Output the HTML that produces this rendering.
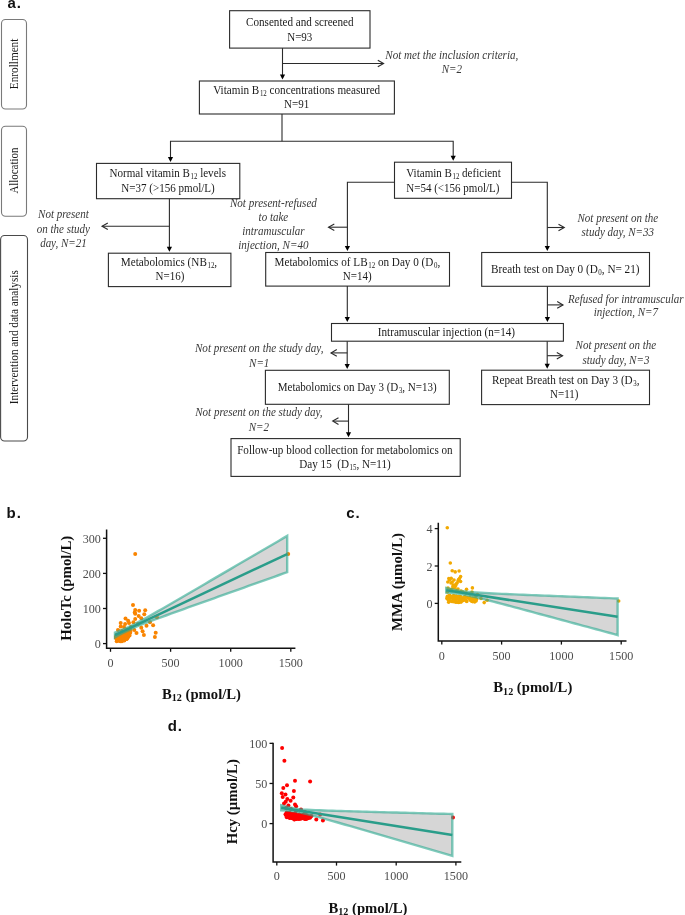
<!DOCTYPE html>
<html><head><meta charset="utf-8"><title>Figure</title>
<style>html,body{margin:0;padding:0;background:#fff;width:685px;height:915px;overflow:hidden;} svg{display:block;will-change:transform;}</style>
</head><body>
<svg width="685" height="915" viewBox="0 0 685 915">
<rect width="685" height="915" fill="#fff"/>
<rect x="1.50" y="19.50" width="25.00" height="89.50" rx="4" fill="none" stroke="#7a7a7a" stroke-width="1.1"/>
<rect x="1.50" y="126.30" width="25.00" height="89.90" rx="4" fill="none" stroke="#7a7a7a" stroke-width="1.1"/>
<rect x="0.60" y="235.50" width="26.90" height="205.50" rx="4" fill="none" stroke="#4a4a4a" stroke-width="1.1"/>
<text transform="translate(17.6,63.9) rotate(-90)" text-anchor="middle" font-family="'Liberation Serif', serif" font-size="12.0" fill="#1a1a1a" textLength="50.5" lengthAdjust="spacingAndGlyphs">Enrollment</text>
<text transform="translate(17.6,170.6) rotate(-90)" text-anchor="middle" font-family="'Liberation Serif', serif" font-size="12.0" fill="#1a1a1a" textLength="46" lengthAdjust="spacingAndGlyphs">Allocation</text>
<text transform="translate(17.6,337.2) rotate(-90)" text-anchor="middle" font-family="'Liberation Serif', serif" font-size="12.0" fill="#1a1a1a" textLength="134" lengthAdjust="spacingAndGlyphs">Intervention and data analysis</text>
<rect x="229.60" y="10.70" width="140.40" height="37.40" rx="0" fill="none" stroke="#2b2b2b" stroke-width="1.1"/>
<text x="299.80" y="25.70" text-anchor="middle" font-family="'Liberation Serif', serif" font-size="12.0" font-weight="normal" fill="#1a1a1a" textLength="107.60" lengthAdjust="spacingAndGlyphs">Consented and screened</text>
<text x="299.80" y="40.90" text-anchor="middle" font-family="'Liberation Serif', serif" font-size="12.0" font-weight="normal" fill="#1a1a1a" textLength="25.14" lengthAdjust="spacingAndGlyphs">N=93</text>
<rect x="199.40" y="81.00" width="195.00" height="33.00" rx="0" fill="none" stroke="#2b2b2b" stroke-width="1.1"/>
<text x="296.70" y="94.20" text-anchor="middle" font-family="'Liberation Serif', serif" font-size="12.0" font-weight="normal" fill="#1a1a1a" textLength="167.00" lengthAdjust="spacingAndGlyphs">Vitamin B<tspan font-size="7.44" dx="0.6" dy="1.9">12</tspan><tspan dy="-1.9"> concentrations measured</tspan></text>
<text x="296.60" y="108.40" text-anchor="middle" font-family="'Liberation Serif', serif" font-size="12.0" font-weight="normal" fill="#1a1a1a" textLength="25.14" lengthAdjust="spacingAndGlyphs">N=91</text>
<rect x="96.50" y="163.40" width="143.30" height="35.30" rx="0" fill="none" stroke="#2b2b2b" stroke-width="1.1"/>
<text x="167.70" y="177.00" text-anchor="middle" font-family="'Liberation Serif', serif" font-size="12.0" font-weight="normal" fill="#1a1a1a" textLength="116.50" lengthAdjust="spacingAndGlyphs">Normal vitamin B<tspan font-size="7.44" dx="0.6" dy="1.9">12</tspan><tspan dy="-1.9"> levels</tspan></text>
<text x="168.00" y="191.90" text-anchor="middle" font-family="'Liberation Serif', serif" font-size="12.0" font-weight="normal" fill="#1a1a1a" textLength="93.60" lengthAdjust="spacingAndGlyphs">N=37 (&gt;156 pmol/L)</text>
<rect x="394.50" y="162.20" width="117.00" height="36.10" rx="0" fill="none" stroke="#2b2b2b" stroke-width="1.1"/>
<text x="406.30" y="176.90" text-anchor="start" font-family="'Liberation Serif', serif" font-size="12.0" font-weight="normal" fill="#1a1a1a" textLength="94.40" lengthAdjust="spacingAndGlyphs">Vitamin B<tspan font-size="7.44" dx="0.6" dy="1.9">12</tspan><tspan dy="-1.9"> deficient</tspan></text>
<text x="406.30" y="191.80" text-anchor="start" font-family="'Liberation Serif', serif" font-size="12.0" font-weight="normal" fill="#1a1a1a" textLength="93.10" lengthAdjust="spacingAndGlyphs">N=54 (&lt;156 pmol/L)</text>
<rect x="108.40" y="253.20" width="122.50" height="33.40" rx="0" fill="none" stroke="#2b2b2b" stroke-width="1.1"/>
<text x="169.00" y="265.70" text-anchor="middle" font-family="'Liberation Serif', serif" font-size="12.0" font-weight="normal" fill="#1a1a1a" textLength="96.30" lengthAdjust="spacingAndGlyphs">Metabolomics (NB<tspan font-size="7.44" dx="0.6" dy="1.9">12</tspan><tspan dy="-1.9">,</tspan></text>
<text x="169.90" y="279.90" text-anchor="middle" font-family="'Liberation Serif', serif" font-size="12.0" font-weight="normal" fill="#1a1a1a" textLength="28.80" lengthAdjust="spacingAndGlyphs">N=16)</text>
<rect x="265.70" y="252.50" width="183.80" height="33.60" rx="0" fill="none" stroke="#2b2b2b" stroke-width="1.1"/>
<text x="357.40" y="265.80" text-anchor="middle" font-family="'Liberation Serif', serif" font-size="12.0" font-weight="normal" fill="#1a1a1a" textLength="165.60" lengthAdjust="spacingAndGlyphs">Metabolomics of LB<tspan font-size="7.44" dx="0.6" dy="1.9">12</tspan><tspan dy="-1.9"> on Day 0 (D</tspan><tspan font-size="7.44" dx="0.6" dy="1.9">0</tspan><tspan dy="-1.9">,</tspan></text>
<text x="357.20" y="279.80" text-anchor="middle" font-family="'Liberation Serif', serif" font-size="12.0" font-weight="normal" fill="#1a1a1a" textLength="28.80" lengthAdjust="spacingAndGlyphs">N=14)</text>
<rect x="481.70" y="252.50" width="167.80" height="33.80" rx="0" fill="none" stroke="#2b2b2b" stroke-width="1.1"/>
<text x="565.30" y="272.80" text-anchor="middle" font-family="'Liberation Serif', serif" font-size="12.0" font-weight="normal" fill="#1a1a1a" textLength="148.50" lengthAdjust="spacingAndGlyphs">Breath test on Day 0 (D<tspan font-size="7.44" dx="0.6" dy="1.9">0</tspan><tspan dy="-1.9">, N= 21)</tspan></text>
<rect x="331.50" y="323.50" width="231.90" height="17.70" rx="0" fill="none" stroke="#2b2b2b" stroke-width="1.1"/>
<text x="446.40" y="336.00" text-anchor="middle" font-family="'Liberation Serif', serif" font-size="12.0" font-weight="normal" fill="#1a1a1a" textLength="137.30" lengthAdjust="spacingAndGlyphs">Intramuscular injection (n=14)</text>
<rect x="265.40" y="370.30" width="183.90" height="34.00" rx="0" fill="none" stroke="#2b2b2b" stroke-width="1.1"/>
<text x="357.20" y="391.30" text-anchor="middle" font-family="'Liberation Serif', serif" font-size="12.0" font-weight="normal" fill="#1a1a1a" textLength="159.00" lengthAdjust="spacingAndGlyphs">Metabolomics on Day 3 (D<tspan font-size="7.44" dx="0.6" dy="1.9">3</tspan><tspan dy="-1.9">, N=13)</tspan></text>
<rect x="481.60" y="370.20" width="167.90" height="34.40" rx="0" fill="none" stroke="#2b2b2b" stroke-width="1.1"/>
<text x="565.80" y="384.00" text-anchor="middle" font-family="'Liberation Serif', serif" font-size="12.0" font-weight="normal" fill="#1a1a1a" textLength="147.50" lengthAdjust="spacingAndGlyphs">Repeat Breath test on Day 3 (D<tspan font-size="7.44" dx="0.6" dy="1.9">3</tspan><tspan dy="-1.9">,</tspan></text>
<text x="564.20" y="398.40" text-anchor="middle" font-family="'Liberation Serif', serif" font-size="12.0" font-weight="normal" fill="#1a1a1a" textLength="28.39" lengthAdjust="spacingAndGlyphs">N=11)</text>
<rect x="231.00" y="438.60" width="229.20" height="37.80" rx="0" fill="none" stroke="#2b2b2b" stroke-width="1.1"/>
<text x="344.90" y="453.80" text-anchor="middle" font-family="'Liberation Serif', serif" font-size="12.0" font-weight="normal" fill="#1a1a1a" textLength="215.40" lengthAdjust="spacingAndGlyphs">Follow-up blood collection for metabolomics on</text>
<text x="345.00" y="468.30" text-anchor="middle" font-family="'Liberation Serif', serif" font-size="12.0" font-weight="normal" fill="#1a1a1a" textLength="91.50" lengthAdjust="spacingAndGlyphs">Day 15&#160; (D<tspan font-size="7.44" dx="0.6" dy="1.9">15</tspan><tspan dy="-1.9">, N=11)</tspan></text>
<path d="M282.50,48.10 L282.50,78.00" fill="none" stroke="#2b2b2b" stroke-width="1.1"/>
<path d="M279.90,74.60 L285.10,74.60 L282.50,79.60 Z" fill="#000"/>
<path d="M282.50,63.50 L383.30,63.50" fill="none" stroke="#2b2b2b" stroke-width="1.1"/>
<path d="M377.80,60.20 L383.60,63.50 L377.80,66.80" fill="none" stroke="#2b2b2b" stroke-width="1.1"/>
<path d="M282.00,114.00 L282.00,141.20" fill="none" stroke="#2b2b2b" stroke-width="1.1"/>
<path d="M170.50,160.00 L170.50,141.20 L453.20,141.20 L453.20,159.00" fill="none" stroke="#2b2b2b" stroke-width="1.1"/>
<path d="M167.90,157.00 L173.10,157.00 L170.50,162.00 Z" fill="#000"/>
<path d="M450.60,155.80 L455.80,155.80 L453.20,160.80 Z" fill="#000"/>
<path d="M169.40,198.70 L169.40,250.00" fill="none" stroke="#2b2b2b" stroke-width="1.1"/>
<path d="M166.80,246.80 L172.00,246.80 L169.40,251.80 Z" fill="#000"/>
<path d="M169.40,226.30 L102.30,226.30" fill="none" stroke="#2b2b2b" stroke-width="1.1"/>
<path d="M107.80,223.00 L102.00,226.30 L107.80,229.60" fill="none" stroke="#2b2b2b" stroke-width="1.1"/>
<path d="M394.50,182.20 L347.40,182.20 L347.40,249.00" fill="none" stroke="#2b2b2b" stroke-width="1.1"/>
<path d="M344.80,246.10 L350.00,246.10 L347.40,251.10 Z" fill="#000"/>
<path d="M347.40,227.20 L328.80,227.20" fill="none" stroke="#2b2b2b" stroke-width="1.1"/>
<path d="M334.30,223.90 L328.50,227.20 L334.30,230.50" fill="none" stroke="#2b2b2b" stroke-width="1.1"/>
<path d="M511.50,182.20 L547.30,182.20 L547.30,249.00" fill="none" stroke="#2b2b2b" stroke-width="1.1"/>
<path d="M544.70,246.10 L549.90,246.10 L547.30,251.10 Z" fill="#000"/>
<path d="M547.30,227.50 L564.00,227.50" fill="none" stroke="#2b2b2b" stroke-width="1.1"/>
<path d="M558.50,224.20 L564.30,227.50 L558.50,230.80" fill="none" stroke="#2b2b2b" stroke-width="1.1"/>
<path d="M347.30,286.10 L347.30,320.00" fill="none" stroke="#2b2b2b" stroke-width="1.1"/>
<path d="M344.70,317.10 L349.90,317.10 L347.30,322.10 Z" fill="#000"/>
<path d="M547.40,286.30 L547.40,320.00" fill="none" stroke="#2b2b2b" stroke-width="1.1"/>
<path d="M544.80,317.10 L550.00,317.10 L547.40,322.10 Z" fill="#000"/>
<path d="M547.40,304.90 L562.70,304.90" fill="none" stroke="#2b2b2b" stroke-width="1.1"/>
<path d="M557.20,301.60 L563.00,304.90 L557.20,308.20" fill="none" stroke="#2b2b2b" stroke-width="1.1"/>
<path d="M347.20,341.20 L347.20,367.00" fill="none" stroke="#2b2b2b" stroke-width="1.1"/>
<path d="M344.60,363.90 L349.80,363.90 L347.20,368.90 Z" fill="#000"/>
<path d="M347.20,352.90 L331.30,352.90" fill="none" stroke="#2b2b2b" stroke-width="1.1"/>
<path d="M336.80,349.60 L331.00,352.90 L336.80,356.20" fill="none" stroke="#2b2b2b" stroke-width="1.1"/>
<path d="M547.20,341.20 L547.20,367.00" fill="none" stroke="#2b2b2b" stroke-width="1.1"/>
<path d="M544.60,363.80 L549.80,363.80 L547.20,368.80 Z" fill="#000"/>
<path d="M547.20,355.70 L562.30,355.70" fill="none" stroke="#2b2b2b" stroke-width="1.1"/>
<path d="M556.80,352.40 L562.60,355.70 L556.80,359.00" fill="none" stroke="#2b2b2b" stroke-width="1.1"/>
<path d="M348.50,404.30 L348.50,435.00" fill="none" stroke="#2b2b2b" stroke-width="1.1"/>
<path d="M345.90,432.20 L351.10,432.20 L348.50,437.20 Z" fill="#000"/>
<path d="M348.50,421.10 L333.00,421.10" fill="none" stroke="#2b2b2b" stroke-width="1.1"/>
<path d="M338.50,417.80 L332.70,421.10 L338.50,424.40" fill="none" stroke="#2b2b2b" stroke-width="1.1"/>
<text x="451.80" y="58.50" text-anchor="middle" font-family="'Liberation Serif', serif" font-size="12.0" font-weight="normal" font-style="italic" fill="#383838" textLength="133.00" lengthAdjust="spacingAndGlyphs">Not met the inclusion criteria,</text>
<text x="451.80" y="72.70" text-anchor="middle" font-family="'Liberation Serif', serif" font-size="12.0" font-weight="normal" font-style="italic" fill="#383838" textLength="20.27" lengthAdjust="spacingAndGlyphs">N=2</text>
<text x="63.40" y="218.40" text-anchor="middle" font-family="'Liberation Serif', serif" font-size="12.0" font-weight="normal" font-style="italic" fill="#383838" textLength="50.62" lengthAdjust="spacingAndGlyphs">Not present</text>
<text x="63.40" y="232.50" text-anchor="middle" font-family="'Liberation Serif', serif" font-size="12.0" font-weight="normal" font-style="italic" fill="#383838" textLength="53.16" lengthAdjust="spacingAndGlyphs">on the study</text>
<text x="63.40" y="246.60" text-anchor="middle" font-family="'Liberation Serif', serif" font-size="12.0" font-weight="normal" font-style="italic" fill="#383838" textLength="46.53" lengthAdjust="spacingAndGlyphs">day, N=21</text>
<text x="273.40" y="207.10" text-anchor="middle" font-family="'Liberation Serif', serif" font-size="12.0" font-weight="normal" font-style="italic" fill="#383838" textLength="87.00" lengthAdjust="spacingAndGlyphs">Not present-refused</text>
<text x="273.40" y="221.10" text-anchor="middle" font-family="'Liberation Serif', serif" font-size="12.0" font-weight="normal" font-style="italic" fill="#383838" textLength="29.62" lengthAdjust="spacingAndGlyphs">to take</text>
<text x="273.40" y="235.10" text-anchor="middle" font-family="'Liberation Serif', serif" font-size="12.0" font-weight="normal" font-style="italic" fill="#383838" textLength="62.34" lengthAdjust="spacingAndGlyphs">intramuscular</text>
<text x="273.40" y="249.10" text-anchor="middle" font-family="'Liberation Serif', serif" font-size="12.0" font-weight="normal" font-style="italic" fill="#383838" textLength="70.50" lengthAdjust="spacingAndGlyphs">injection, N=40</text>
<text x="617.80" y="221.70" text-anchor="middle" font-family="'Liberation Serif', serif" font-size="12.0" font-weight="normal" font-style="italic" fill="#383838" textLength="80.56" lengthAdjust="spacingAndGlyphs">Not present on the</text>
<text x="617.80" y="236.20" text-anchor="middle" font-family="'Liberation Serif', serif" font-size="12.0" font-weight="normal" font-style="italic" fill="#383838" textLength="72.50" lengthAdjust="spacingAndGlyphs">study day, N=33</text>
<text x="625.80" y="302.60" text-anchor="middle" font-family="'Liberation Serif', serif" font-size="12.0" font-weight="normal" font-style="italic" fill="#383838" textLength="115.50" lengthAdjust="spacingAndGlyphs">Refused for intramuscular</text>
<text x="625.80" y="316.20" text-anchor="middle" font-family="'Liberation Serif', serif" font-size="12.0" font-weight="normal" font-style="italic" fill="#383838" textLength="64.27" lengthAdjust="spacingAndGlyphs">injection, N=7</text>
<text x="259.20" y="352.10" text-anchor="middle" font-family="'Liberation Serif', serif" font-size="12.0" font-weight="normal" font-style="italic" fill="#383838" textLength="128.50" lengthAdjust="spacingAndGlyphs">Not present on the study day,</text>
<text x="259.20" y="366.50" text-anchor="middle" font-family="'Liberation Serif', serif" font-size="12.0" font-weight="normal" font-style="italic" fill="#383838" textLength="20.27" lengthAdjust="spacingAndGlyphs">N=1</text>
<text x="615.90" y="349.40" text-anchor="middle" font-family="'Liberation Serif', serif" font-size="12.0" font-weight="normal" font-style="italic" fill="#383838" textLength="80.56" lengthAdjust="spacingAndGlyphs">Not present on the</text>
<text x="615.90" y="363.90" text-anchor="middle" font-family="'Liberation Serif', serif" font-size="12.0" font-weight="normal" font-style="italic" fill="#383838" textLength="67.00" lengthAdjust="spacingAndGlyphs">study day, N=3</text>
<text x="258.90" y="416.10" text-anchor="middle" font-family="'Liberation Serif', serif" font-size="12.0" font-weight="normal" font-style="italic" fill="#383838" textLength="127.30" lengthAdjust="spacingAndGlyphs">Not present on the study day,</text>
<text x="258.90" y="431.00" text-anchor="middle" font-family="'Liberation Serif', serif" font-size="12.0" font-weight="normal" font-style="italic" fill="#383838" textLength="20.27" lengthAdjust="spacingAndGlyphs">N=2</text>
<text x="7.40" y="8.30" text-anchor="start" font-family="'Liberation Sans', sans-serif" font-size="15" font-weight="bold" fill="#111" letter-spacing="0.9">a.</text>
<text x="6.60" y="517.80" text-anchor="start" font-family="'Liberation Sans', sans-serif" font-size="15" font-weight="bold" fill="#111" letter-spacing="0.9">b.</text>
<text x="346.30" y="517.90" text-anchor="start" font-family="'Liberation Sans', sans-serif" font-size="15" font-weight="bold" fill="#111" letter-spacing="0.9">c.</text>
<text x="167.80" y="731.40" text-anchor="start" font-family="'Liberation Sans', sans-serif" font-size="15" font-weight="bold" fill="#111" letter-spacing="0.9">d.</text>
<circle cx="135.20" cy="554.00" r="2.0" fill="#f98400"/>
<circle cx="133.00" cy="605.10" r="2.0" fill="#f98400"/>
<circle cx="135.20" cy="609.90" r="2.0" fill="#f98400"/>
<circle cx="139.10" cy="610.80" r="2.0" fill="#f98400"/>
<circle cx="145.20" cy="610.30" r="2.0" fill="#f98400"/>
<circle cx="134.70" cy="612.50" r="2.0" fill="#f98400"/>
<circle cx="135.20" cy="613.80" r="2.0" fill="#f98400"/>
<circle cx="144.30" cy="614.30" r="2.0" fill="#f98400"/>
<circle cx="138.70" cy="616.00" r="2.0" fill="#f98400"/>
<circle cx="141.30" cy="618.20" r="2.0" fill="#f98400"/>
<circle cx="135.20" cy="619.10" r="2.0" fill="#f98400"/>
<circle cx="125.50" cy="618.60" r="2.0" fill="#f98400"/>
<circle cx="128.10" cy="620.80" r="2.0" fill="#f98400"/>
<circle cx="120.70" cy="623.00" r="2.0" fill="#f98400"/>
<circle cx="125.10" cy="623.90" r="2.0" fill="#f98400"/>
<circle cx="129.00" cy="623.00" r="2.0" fill="#f98400"/>
<circle cx="133.40" cy="622.20" r="2.0" fill="#f98400"/>
<circle cx="150.00" cy="622.20" r="2.0" fill="#f98400"/>
<circle cx="157.00" cy="617.30" r="2.0" fill="#f98400"/>
<circle cx="153.10" cy="625.20" r="2.0" fill="#f98400"/>
<circle cx="146.50" cy="625.70" r="2.0" fill="#f98400"/>
<circle cx="120.70" cy="626.50" r="2.0" fill="#f98400"/>
<circle cx="141.30" cy="627.80" r="2.0" fill="#f98400"/>
<circle cx="134.30" cy="630.00" r="2.0" fill="#f98400"/>
<circle cx="136.50" cy="633.10" r="2.0" fill="#f98400"/>
<circle cx="142.60" cy="631.30" r="2.0" fill="#f98400"/>
<circle cx="143.90" cy="634.90" r="2.0" fill="#f98400"/>
<circle cx="155.70" cy="632.70" r="2.0" fill="#f98400"/>
<circle cx="154.90" cy="637.00" r="2.0" fill="#f98400"/>
<circle cx="288.20" cy="553.90" r="2.0" fill="#f98400"/>
<circle cx="124.00" cy="627.00" r="2.0" fill="#f98400"/>
<circle cx="127.00" cy="629.50" r="2.0" fill="#f98400"/>
<circle cx="131.00" cy="627.00" r="2.0" fill="#f98400"/>
<circle cx="138.00" cy="624.00" r="2.0" fill="#f98400"/>
<circle cx="118.00" cy="630.00" r="2.0" fill="#f98400"/>
<circle cx="122.00" cy="631.00" r="2.0" fill="#f98400"/>
<circle cx="123.91" cy="633.53" r="2.0" fill="#f98400"/>
<circle cx="121.85" cy="641.14" r="2.0" fill="#f98400"/>
<circle cx="124.68" cy="634.05" r="2.0" fill="#f98400"/>
<circle cx="129.88" cy="632.28" r="2.0" fill="#f98400"/>
<circle cx="119.71" cy="640.97" r="2.0" fill="#f98400"/>
<circle cx="117.34" cy="637.10" r="2.0" fill="#f98400"/>
<circle cx="125.82" cy="633.64" r="2.0" fill="#f98400"/>
<circle cx="126.59" cy="634.56" r="2.0" fill="#f98400"/>
<circle cx="119.81" cy="637.16" r="2.0" fill="#f98400"/>
<circle cx="118.52" cy="636.98" r="2.0" fill="#f98400"/>
<circle cx="127.49" cy="632.25" r="2.0" fill="#f98400"/>
<circle cx="121.74" cy="639.99" r="2.0" fill="#f98400"/>
<circle cx="116.81" cy="635.57" r="2.0" fill="#f98400"/>
<circle cx="128.14" cy="636.95" r="2.0" fill="#f98400"/>
<circle cx="130.20" cy="632.68" r="2.0" fill="#f98400"/>
<circle cx="126.86" cy="637.31" r="2.0" fill="#f98400"/>
<circle cx="124.73" cy="635.03" r="2.0" fill="#f98400"/>
<circle cx="122.77" cy="638.46" r="2.0" fill="#f98400"/>
<circle cx="129.21" cy="632.20" r="2.0" fill="#f98400"/>
<circle cx="121.14" cy="638.53" r="2.0" fill="#f98400"/>
<circle cx="119.15" cy="634.35" r="2.0" fill="#f98400"/>
<circle cx="118.32" cy="635.50" r="2.0" fill="#f98400"/>
<circle cx="120.83" cy="636.84" r="2.0" fill="#f98400"/>
<circle cx="123.54" cy="637.69" r="2.0" fill="#f98400"/>
<circle cx="121.26" cy="634.08" r="2.0" fill="#f98400"/>
<circle cx="115.92" cy="637.97" r="2.0" fill="#f98400"/>
<circle cx="122.62" cy="635.48" r="2.0" fill="#f98400"/>
<circle cx="117.09" cy="640.24" r="2.0" fill="#f98400"/>
<circle cx="123.85" cy="640.35" r="2.0" fill="#f98400"/>
<circle cx="118.19" cy="636.04" r="2.0" fill="#f98400"/>
<circle cx="118.79" cy="638.93" r="2.0" fill="#f98400"/>
<circle cx="129.55" cy="635.41" r="2.0" fill="#f98400"/>
<circle cx="127.88" cy="635.39" r="2.0" fill="#f98400"/>
<circle cx="117.30" cy="640.52" r="2.0" fill="#f98400"/>
<circle cx="120.15" cy="640.71" r="2.0" fill="#f98400"/>
<circle cx="116.70" cy="641.14" r="2.0" fill="#f98400"/>
<circle cx="120.48" cy="636.55" r="2.0" fill="#f98400"/>
<circle cx="129.28" cy="630.98" r="2.0" fill="#f98400"/>
<circle cx="118.45" cy="637.18" r="2.0" fill="#f98400"/>
<circle cx="118.80" cy="634.41" r="2.0" fill="#f98400"/>
<circle cx="120.55" cy="635.06" r="2.0" fill="#f98400"/>
<circle cx="123.28" cy="636.28" r="2.0" fill="#f98400"/>
<circle cx="117.19" cy="635.31" r="2.0" fill="#f98400"/>
<circle cx="127.42" cy="636.68" r="2.0" fill="#f98400"/>
<circle cx="120.03" cy="636.05" r="2.0" fill="#f98400"/>
<circle cx="124.28" cy="640.44" r="2.0" fill="#f98400"/>
<circle cx="115.96" cy="636.74" r="2.0" fill="#f98400"/>
<circle cx="128.29" cy="635.88" r="2.0" fill="#f98400"/>
<circle cx="124.39" cy="640.04" r="2.0" fill="#f98400"/>
<circle cx="125.33" cy="635.84" r="2.0" fill="#f98400"/>
<circle cx="123.47" cy="638.93" r="2.0" fill="#f98400"/>
<circle cx="122.37" cy="636.30" r="2.0" fill="#f98400"/>
<circle cx="116.86" cy="639.32" r="2.0" fill="#f98400"/>
<circle cx="121.37" cy="635.54" r="2.0" fill="#f98400"/>
<circle cx="123.54" cy="633.10" r="2.0" fill="#f98400"/>
<circle cx="124.25" cy="634.77" r="2.0" fill="#f98400"/>
<circle cx="125.54" cy="635.95" r="2.0" fill="#f98400"/>
<circle cx="129.15" cy="631.77" r="2.0" fill="#f98400"/>
<circle cx="124.56" cy="639.06" r="2.0" fill="#f98400"/>
<circle cx="126.73" cy="634.52" r="2.0" fill="#f98400"/>
<circle cx="122.39" cy="633.10" r="2.0" fill="#f98400"/>
<circle cx="128.05" cy="632.28" r="2.0" fill="#f98400"/>
<circle cx="127.56" cy="636.59" r="2.0" fill="#f98400"/>
<circle cx="117.50" cy="635.33" r="2.0" fill="#f98400"/>
<circle cx="129.15" cy="634.63" r="2.0" fill="#f98400"/>
<circle cx="121.27" cy="635.86" r="2.0" fill="#f98400"/>
<circle cx="120.34" cy="641.23" r="2.0" fill="#f98400"/>
<circle cx="127.07" cy="637.99" r="2.0" fill="#f98400"/>
<circle cx="121.49" cy="633.23" r="2.0" fill="#f98400"/>
<circle cx="119.42" cy="635.08" r="2.0" fill="#f98400"/>
<circle cx="116.91" cy="634.86" r="2.0" fill="#f98400"/>
<circle cx="122.78" cy="635.80" r="2.0" fill="#f98400"/>
<circle cx="117.72" cy="635.83" r="2.0" fill="#f98400"/>
<circle cx="124.83" cy="636.23" r="2.0" fill="#f98400"/>
<circle cx="127.40" cy="638.11" r="2.0" fill="#f98400"/>
<circle cx="116.58" cy="636.14" r="2.0" fill="#f98400"/>
<circle cx="126.63" cy="638.94" r="2.0" fill="#f98400"/>
<circle cx="124.33" cy="637.86" r="2.0" fill="#f98400"/>
<circle cx="125.59" cy="638.73" r="2.0" fill="#f98400"/>
<circle cx="123.30" cy="636.33" r="2.0" fill="#f98400"/>
<circle cx="127.63" cy="631.66" r="2.0" fill="#f98400"/>
<circle cx="123.14" cy="633.81" r="2.0" fill="#f98400"/>
<circle cx="122.86" cy="638.78" r="2.0" fill="#f98400"/>
<circle cx="127.75" cy="632.52" r="2.0" fill="#f98400"/>
<circle cx="126.43" cy="638.92" r="2.0" fill="#f98400"/>
<circle cx="126.50" cy="632.30" r="2.0" fill="#f98400"/>
<circle cx="123.56" cy="635.17" r="2.0" fill="#f98400"/>
<circle cx="130.53" cy="630.79" r="2.0" fill="#f98400"/>
<circle cx="117.90" cy="637.09" r="2.0" fill="#f98400"/>
<circle cx="116.62" cy="636.15" r="2.0" fill="#f98400"/>
<path d="M114.95,632.68 L119.25,630.99 L123.56,629.22 L127.87,627.33 L132.17,625.29 L136.48,623.12 L140.78,620.83 L145.09,618.46 L149.40,616.05 L153.70,613.61 L158.01,611.15 L162.32,608.68 L166.62,606.19 L170.93,603.70 L175.23,601.21 L179.54,598.71 L183.85,596.21 L188.15,593.70 L192.46,591.20 L196.76,588.69 L201.07,586.18 L205.38,583.67 L209.68,581.16 L213.99,578.65 L218.30,576.13 L222.60,573.62 L226.91,571.11 L231.21,568.59 L235.52,566.08 L239.83,563.56 L244.13,561.05 L248.44,558.53 L252.74,556.02 L257.05,553.50 L261.36,550.99 L265.66,548.47 L269.97,545.95 L274.28,543.44 L278.58,540.92 L282.89,538.40 L287.19,535.89 L287.19,572.18 L282.89,573.72 L278.58,575.25 L274.28,576.78 L269.97,578.31 L265.66,579.85 L261.36,581.38 L257.05,582.91 L252.74,584.44 L248.44,585.98 L244.13,587.51 L239.83,589.05 L235.52,590.58 L231.21,592.11 L226.91,593.65 L222.60,595.18 L218.30,596.72 L213.99,598.26 L209.68,599.79 L205.38,601.33 L201.07,602.87 L196.76,604.41 L192.46,605.95 L188.15,607.49 L183.85,609.04 L179.54,610.59 L175.23,612.14 L170.93,613.69 L166.62,615.25 L162.32,616.81 L158.01,618.39 L153.70,619.98 L149.40,621.59 L145.09,623.23 L140.78,624.91 L136.48,626.67 L132.17,628.54 L127.87,630.56 L123.56,632.72 L119.25,634.99 L114.95,637.35 Z" fill="#999" fill-opacity="0.4" stroke="#2aa88f" stroke-opacity="0.6" stroke-width="2.4" stroke-linejoin="miter"/>
<path d="M114.95,635.02 L287.19,554.04" stroke="#2a9d8a" stroke-width="2.5" fill="none"/>
<path d="M106.60,529.40 L106.60,648.20 L295.40,648.20" fill="none" stroke="#111" stroke-width="1.5"/>
<path d="M103.00,643.60 L106.60,643.60" stroke="#111" stroke-width="1.3"/>
<text x="100.80" y="648.10" text-anchor="end" font-family="'Liberation Serif', serif" font-size="12.1" font-weight="normal" fill="#4d4d4d">0</text>
<path d="M103.00,608.50 L106.60,608.50" stroke="#111" stroke-width="1.3"/>
<text x="100.80" y="613.00" text-anchor="end" font-family="'Liberation Serif', serif" font-size="12.1" font-weight="normal" fill="#4d4d4d">100</text>
<path d="M103.00,573.40 L106.60,573.40" stroke="#111" stroke-width="1.3"/>
<text x="100.80" y="577.90" text-anchor="end" font-family="'Liberation Serif', serif" font-size="12.1" font-weight="normal" fill="#4d4d4d">200</text>
<path d="M103.00,538.30 L106.60,538.30" stroke="#111" stroke-width="1.3"/>
<text x="100.80" y="542.80" text-anchor="end" font-family="'Liberation Serif', serif" font-size="12.1" font-weight="normal" fill="#4d4d4d">300</text>
<path d="M110.50,648.20 L110.50,651.80" stroke="#111" stroke-width="1.3"/>
<text x="110.50" y="666.60" text-anchor="middle" font-family="'Liberation Serif', serif" font-size="12.1" font-weight="normal" fill="#4d4d4d">0</text>
<path d="M170.60,648.20 L170.60,651.80" stroke="#111" stroke-width="1.3"/>
<text x="170.60" y="666.60" text-anchor="middle" font-family="'Liberation Serif', serif" font-size="12.1" font-weight="normal" fill="#4d4d4d">500</text>
<path d="M230.70,648.20 L230.70,651.80" stroke="#111" stroke-width="1.3"/>
<text x="230.70" y="666.60" text-anchor="middle" font-family="'Liberation Serif', serif" font-size="12.1" font-weight="normal" fill="#4d4d4d">1000</text>
<path d="M290.80,648.20 L290.80,651.80" stroke="#111" stroke-width="1.3"/>
<text x="290.80" y="666.60" text-anchor="middle" font-family="'Liberation Serif', serif" font-size="12.1" font-weight="normal" fill="#4d4d4d">1500</text>
<text transform="translate(70.5,588.2) rotate(-90)" text-anchor="middle" font-family="'Liberation Serif', serif" font-size="14.8" font-weight="bold" fill="#111" textLength="105" lengthAdjust="spacingAndGlyphs">HoloTc (pmol/L)</text>
<text x="162" y="698.6" font-family="'Liberation Serif', serif" font-size="14.8" font-weight="bold" fill="#111" textLength="79" lengthAdjust="spacingAndGlyphs">B<tspan font-size="10.2" dy="2.8">12</tspan><tspan dy="-2.8"> (pmol/L)</tspan></text>
<circle cx="447.30" cy="527.70" r="1.8" fill="#f2a900"/>
<circle cx="450.30" cy="563.00" r="1.8" fill="#f2a900"/>
<circle cx="452.20" cy="570.70" r="1.8" fill="#f2a900"/>
<circle cx="455.20" cy="571.90" r="1.8" fill="#f2a900"/>
<circle cx="459.10" cy="571.00" r="1.8" fill="#f2a900"/>
<circle cx="460.60" cy="576.60" r="1.8" fill="#f2a900"/>
<circle cx="448.80" cy="578.50" r="1.8" fill="#f2a900"/>
<circle cx="451.20" cy="578.20" r="1.8" fill="#f2a900"/>
<circle cx="447.80" cy="582.00" r="1.8" fill="#f2a900"/>
<circle cx="452.20" cy="582.00" r="1.8" fill="#f2a900"/>
<circle cx="458.60" cy="579.50" r="1.8" fill="#f2a900"/>
<circle cx="460.60" cy="581.50" r="1.8" fill="#f2a900"/>
<circle cx="457.10" cy="583.00" r="1.8" fill="#f2a900"/>
<circle cx="453.20" cy="585.00" r="1.8" fill="#f2a900"/>
<circle cx="455.70" cy="585.40" r="1.8" fill="#f2a900"/>
<circle cx="472.40" cy="587.90" r="1.8" fill="#f2a900"/>
<circle cx="466.50" cy="589.30" r="1.8" fill="#f2a900"/>
<circle cx="484.20" cy="602.60" r="1.8" fill="#f2a900"/>
<circle cx="487.10" cy="600.20" r="1.8" fill="#f2a900"/>
<circle cx="618.70" cy="601.00" r="1.8" fill="#f2a900"/>
<circle cx="453.00" cy="588.00" r="1.8" fill="#f2a900"/>
<circle cx="458.00" cy="589.00" r="1.8" fill="#f2a900"/>
<circle cx="463.00" cy="592.00" r="1.8" fill="#f2a900"/>
<circle cx="470.00" cy="594.00" r="1.8" fill="#f2a900"/>
<circle cx="476.00" cy="596.00" r="1.8" fill="#f2a900"/>
<circle cx="481.00" cy="598.50" r="1.8" fill="#f2a900"/>
<circle cx="450.00" cy="590.00" r="1.8" fill="#f2a900"/>
<circle cx="449.50" cy="580.00" r="1.8" fill="#f2a900"/>
<circle cx="451.00" cy="583.00" r="1.8" fill="#f2a900"/>
<circle cx="453.00" cy="586.50" r="1.8" fill="#f2a900"/>
<circle cx="456.00" cy="584.00" r="1.8" fill="#f2a900"/>
<circle cx="458.00" cy="581.00" r="1.8" fill="#f2a900"/>
<circle cx="459.50" cy="578.50" r="1.8" fill="#f2a900"/>
<circle cx="455.00" cy="588.00" r="1.8" fill="#f2a900"/>
<circle cx="457.00" cy="590.50" r="1.8" fill="#f2a900"/>
<circle cx="451.00" cy="589.50" r="1.8" fill="#f2a900"/>
<circle cx="448.00" cy="588.00" r="1.8" fill="#f2a900"/>
<circle cx="454.00" cy="580.00" r="1.8" fill="#f2a900"/>
<circle cx="447.50" cy="592.00" r="1.8" fill="#f2a900"/>
<circle cx="461.00" cy="591.00" r="1.8" fill="#f2a900"/>
<circle cx="466.00" cy="593.00" r="1.8" fill="#f2a900"/>
<circle cx="472.00" cy="592.00" r="1.8" fill="#f2a900"/>
<circle cx="477.50" cy="594.50" r="1.8" fill="#f2a900"/>
<circle cx="472.53" cy="598.84" r="1.8" fill="#f2a900"/>
<circle cx="474.74" cy="600.89" r="1.8" fill="#f2a900"/>
<circle cx="460.27" cy="596.67" r="1.8" fill="#f2a900"/>
<circle cx="449.97" cy="597.11" r="1.8" fill="#f2a900"/>
<circle cx="455.79" cy="602.32" r="1.8" fill="#f2a900"/>
<circle cx="476.06" cy="600.99" r="1.8" fill="#f2a900"/>
<circle cx="457.66" cy="597.63" r="1.8" fill="#f2a900"/>
<circle cx="457.28" cy="597.99" r="1.8" fill="#f2a900"/>
<circle cx="448.68" cy="602.26" r="1.8" fill="#f2a900"/>
<circle cx="453.58" cy="596.29" r="1.8" fill="#f2a900"/>
<circle cx="474.66" cy="602.03" r="1.8" fill="#f2a900"/>
<circle cx="476.53" cy="599.27" r="1.8" fill="#f2a900"/>
<circle cx="469.61" cy="598.23" r="1.8" fill="#f2a900"/>
<circle cx="470.29" cy="600.27" r="1.8" fill="#f2a900"/>
<circle cx="460.98" cy="597.11" r="1.8" fill="#f2a900"/>
<circle cx="455.19" cy="601.26" r="1.8" fill="#f2a900"/>
<circle cx="463.80" cy="597.64" r="1.8" fill="#f2a900"/>
<circle cx="453.24" cy="596.21" r="1.8" fill="#f2a900"/>
<circle cx="470.19" cy="597.83" r="1.8" fill="#f2a900"/>
<circle cx="459.04" cy="599.00" r="1.8" fill="#f2a900"/>
<circle cx="457.81" cy="597.05" r="1.8" fill="#f2a900"/>
<circle cx="447.36" cy="596.41" r="1.8" fill="#f2a900"/>
<circle cx="462.01" cy="600.11" r="1.8" fill="#f2a900"/>
<circle cx="454.30" cy="596.11" r="1.8" fill="#f2a900"/>
<circle cx="458.57" cy="598.18" r="1.8" fill="#f2a900"/>
<circle cx="475.04" cy="598.47" r="1.8" fill="#f2a900"/>
<circle cx="462.64" cy="600.66" r="1.8" fill="#f2a900"/>
<circle cx="466.79" cy="601.53" r="1.8" fill="#f2a900"/>
<circle cx="460.48" cy="599.29" r="1.8" fill="#f2a900"/>
<circle cx="449.55" cy="596.14" r="1.8" fill="#f2a900"/>
<circle cx="466.42" cy="600.84" r="1.8" fill="#f2a900"/>
<circle cx="462.71" cy="599.62" r="1.8" fill="#f2a900"/>
<circle cx="455.31" cy="598.34" r="1.8" fill="#f2a900"/>
<circle cx="474.64" cy="598.49" r="1.8" fill="#f2a900"/>
<circle cx="453.09" cy="596.09" r="1.8" fill="#f2a900"/>
<circle cx="461.84" cy="600.58" r="1.8" fill="#f2a900"/>
<circle cx="456.52" cy="597.92" r="1.8" fill="#f2a900"/>
<circle cx="471.76" cy="601.26" r="1.8" fill="#f2a900"/>
<circle cx="452.65" cy="601.48" r="1.8" fill="#f2a900"/>
<circle cx="452.71" cy="597.88" r="1.8" fill="#f2a900"/>
<circle cx="450.16" cy="597.63" r="1.8" fill="#f2a900"/>
<circle cx="447.30" cy="597.63" r="1.8" fill="#f2a900"/>
<circle cx="467.36" cy="597.48" r="1.8" fill="#f2a900"/>
<circle cx="457.71" cy="596.98" r="1.8" fill="#f2a900"/>
<circle cx="454.59" cy="597.19" r="1.8" fill="#f2a900"/>
<circle cx="457.14" cy="602.13" r="1.8" fill="#f2a900"/>
<circle cx="472.59" cy="598.04" r="1.8" fill="#f2a900"/>
<circle cx="446.94" cy="598.47" r="1.8" fill="#f2a900"/>
<circle cx="451.71" cy="597.32" r="1.8" fill="#f2a900"/>
<circle cx="458.94" cy="602.02" r="1.8" fill="#f2a900"/>
<circle cx="456.56" cy="596.36" r="1.8" fill="#f2a900"/>
<circle cx="454.00" cy="601.02" r="1.8" fill="#f2a900"/>
<circle cx="455.81" cy="596.39" r="1.8" fill="#f2a900"/>
<circle cx="475.73" cy="600.16" r="1.8" fill="#f2a900"/>
<circle cx="453.06" cy="598.49" r="1.8" fill="#f2a900"/>
<circle cx="459.57" cy="598.68" r="1.8" fill="#f2a900"/>
<circle cx="471.95" cy="601.25" r="1.8" fill="#f2a900"/>
<circle cx="472.62" cy="601.61" r="1.8" fill="#f2a900"/>
<circle cx="465.46" cy="596.94" r="1.8" fill="#f2a900"/>
<circle cx="455.91" cy="597.30" r="1.8" fill="#f2a900"/>
<circle cx="451.85" cy="601.41" r="1.8" fill="#f2a900"/>
<circle cx="448.50" cy="598.73" r="1.8" fill="#f2a900"/>
<circle cx="468.86" cy="598.19" r="1.8" fill="#f2a900"/>
<circle cx="453.08" cy="597.88" r="1.8" fill="#f2a900"/>
<circle cx="465.89" cy="600.58" r="1.8" fill="#f2a900"/>
<circle cx="464.12" cy="597.42" r="1.8" fill="#f2a900"/>
<circle cx="453.51" cy="596.08" r="1.8" fill="#f2a900"/>
<circle cx="464.50" cy="596.93" r="1.8" fill="#f2a900"/>
<circle cx="472.14" cy="600.36" r="1.8" fill="#f2a900"/>
<circle cx="461.06" cy="602.10" r="1.8" fill="#f2a900"/>
<circle cx="449.26" cy="595.49" r="1.8" fill="#f2a900"/>
<circle cx="474.06" cy="598.22" r="1.8" fill="#f2a900"/>
<circle cx="453.93" cy="601.67" r="1.8" fill="#f2a900"/>
<circle cx="465.09" cy="600.01" r="1.8" fill="#f2a900"/>
<circle cx="452.53" cy="597.37" r="1.8" fill="#f2a900"/>
<circle cx="449.99" cy="595.64" r="1.8" fill="#f2a900"/>
<circle cx="453.76" cy="599.79" r="1.8" fill="#f2a900"/>
<circle cx="471.70" cy="599.25" r="1.8" fill="#f2a900"/>
<circle cx="458.42" cy="599.28" r="1.8" fill="#f2a900"/>
<circle cx="450.73" cy="600.80" r="1.8" fill="#f2a900"/>
<circle cx="458.90" cy="596.47" r="1.8" fill="#f2a900"/>
<circle cx="455.67" cy="599.45" r="1.8" fill="#f2a900"/>
<circle cx="457.16" cy="597.87" r="1.8" fill="#f2a900"/>
<circle cx="459.37" cy="602.11" r="1.8" fill="#f2a900"/>
<circle cx="448.26" cy="600.03" r="1.8" fill="#f2a900"/>
<circle cx="457.61" cy="598.80" r="1.8" fill="#f2a900"/>
<circle cx="450.14" cy="596.47" r="1.8" fill="#f2a900"/>
<circle cx="448.91" cy="598.65" r="1.8" fill="#f2a900"/>
<circle cx="475.32" cy="600.01" r="1.8" fill="#f2a900"/>
<circle cx="458.73" cy="602.39" r="1.8" fill="#f2a900"/>
<path d="M446.23,587.91 L450.51,588.90 L454.79,589.82 L459.08,590.62 L463.36,591.28 L467.65,591.78 L471.93,592.18 L476.22,592.50 L480.50,592.77 L484.79,593.02 L489.07,593.24 L493.36,593.45 L497.64,593.65 L501.93,593.84 L506.21,594.03 L510.50,594.22 L514.78,594.40 L519.06,594.58 L523.35,594.76 L527.63,594.93 L531.92,595.11 L536.20,595.28 L540.49,595.45 L544.77,595.63 L549.06,595.80 L553.34,595.97 L557.63,596.14 L561.91,596.31 L566.20,596.48 L570.48,596.65 L574.77,596.82 L579.05,596.99 L583.33,597.16 L587.62,597.32 L591.90,597.49 L596.19,597.66 L600.47,597.83 L604.76,597.99 L609.04,598.16 L613.33,598.33 L617.61,598.50 L617.61,635.06 L613.33,633.90 L609.04,632.74 L604.76,631.58 L600.47,630.42 L596.19,629.26 L591.90,628.10 L587.62,626.94 L583.33,625.79 L579.05,624.63 L574.77,623.47 L570.48,622.31 L566.20,621.15 L561.91,620.00 L557.63,618.84 L553.34,617.69 L549.06,616.53 L544.77,615.38 L540.49,614.22 L536.20,613.07 L531.92,611.91 L527.63,610.76 L523.35,609.61 L519.06,608.46 L514.78,607.32 L510.50,606.17 L506.21,605.03 L501.93,603.89 L497.64,602.76 L493.36,601.64 L489.07,600.52 L484.79,599.42 L480.50,598.33 L476.22,597.28 L471.93,596.27 L467.65,595.34 L463.36,594.52 L459.08,593.85 L454.79,593.33 L450.51,592.92 L446.23,592.59 Z" fill="#999" fill-opacity="0.4" stroke="#2aa88f" stroke-opacity="0.6" stroke-width="2.4" stroke-linejoin="miter"/>
<path d="M446.23,590.25 L617.61,616.78" stroke="#2a9d8a" stroke-width="2.5" fill="none"/>
<path d="M438.30,522.80 L438.30,641.00 L626.50,641.00" fill="none" stroke="#111" stroke-width="1.5"/>
<path d="M434.70,603.40 L438.30,603.40" stroke="#111" stroke-width="1.3"/>
<text x="432.50" y="607.90" text-anchor="end" font-family="'Liberation Serif', serif" font-size="12.1" font-weight="normal" fill="#4d4d4d">0</text>
<path d="M434.70,566.00 L438.30,566.00" stroke="#111" stroke-width="1.3"/>
<text x="432.50" y="570.50" text-anchor="end" font-family="'Liberation Serif', serif" font-size="12.1" font-weight="normal" fill="#4d4d4d">2</text>
<path d="M434.70,528.60 L438.30,528.60" stroke="#111" stroke-width="1.3"/>
<text x="432.50" y="533.10" text-anchor="end" font-family="'Liberation Serif', serif" font-size="12.1" font-weight="normal" fill="#4d4d4d">4</text>
<path d="M441.80,641.00 L441.80,644.60" stroke="#111" stroke-width="1.3"/>
<text x="441.80" y="659.90" text-anchor="middle" font-family="'Liberation Serif', serif" font-size="12.1" font-weight="normal" fill="#4d4d4d">0</text>
<path d="M501.60,641.00 L501.60,644.60" stroke="#111" stroke-width="1.3"/>
<text x="501.60" y="659.90" text-anchor="middle" font-family="'Liberation Serif', serif" font-size="12.1" font-weight="normal" fill="#4d4d4d">500</text>
<path d="M561.40,641.00 L561.40,644.60" stroke="#111" stroke-width="1.3"/>
<text x="561.40" y="659.90" text-anchor="middle" font-family="'Liberation Serif', serif" font-size="12.1" font-weight="normal" fill="#4d4d4d">1000</text>
<path d="M621.20,641.00 L621.20,644.60" stroke="#111" stroke-width="1.3"/>
<text x="621.20" y="659.90" text-anchor="middle" font-family="'Liberation Serif', serif" font-size="12.1" font-weight="normal" fill="#4d4d4d">1500</text>
<text transform="translate(401.7,582) rotate(-90)" text-anchor="middle" font-family="'Liberation Serif', serif" font-size="14.8" font-weight="bold" fill="#111" textLength="98" lengthAdjust="spacingAndGlyphs">MMA (µmol/L)</text>
<text x="493.3" y="692.1" font-family="'Liberation Serif', serif" font-size="14.8" font-weight="bold" fill="#111" textLength="79" lengthAdjust="spacingAndGlyphs">B<tspan font-size="10.2" dy="2.8">12</tspan><tspan dy="-2.8"> (pmol/L)</tspan></text>
<circle cx="282.10" cy="747.90" r="2.0" fill="#ff0000"/>
<circle cx="284.40" cy="760.80" r="2.0" fill="#ff0000"/>
<circle cx="295.00" cy="780.70" r="2.0" fill="#ff0000"/>
<circle cx="310.10" cy="781.60" r="2.0" fill="#ff0000"/>
<circle cx="287.00" cy="785.20" r="2.0" fill="#ff0000"/>
<circle cx="283.30" cy="788.10" r="2.0" fill="#ff0000"/>
<circle cx="293.90" cy="790.90" r="2.0" fill="#ff0000"/>
<circle cx="281.80" cy="793.30" r="2.0" fill="#ff0000"/>
<circle cx="285.50" cy="794.40" r="2.0" fill="#ff0000"/>
<circle cx="282.70" cy="796.90" r="2.0" fill="#ff0000"/>
<circle cx="293.30" cy="797.60" r="2.0" fill="#ff0000"/>
<circle cx="287.30" cy="799.10" r="2.0" fill="#ff0000"/>
<circle cx="290.60" cy="800.70" r="2.0" fill="#ff0000"/>
<circle cx="285.70" cy="801.80" r="2.0" fill="#ff0000"/>
<circle cx="284.00" cy="803.40" r="2.0" fill="#ff0000"/>
<circle cx="295.00" cy="804.50" r="2.0" fill="#ff0000"/>
<circle cx="296.10" cy="806.20" r="2.0" fill="#ff0000"/>
<circle cx="288.40" cy="805.60" r="2.0" fill="#ff0000"/>
<circle cx="301.00" cy="809.50" r="2.0" fill="#ff0000"/>
<circle cx="320.10" cy="814.40" r="2.0" fill="#ff0000"/>
<circle cx="316.30" cy="819.60" r="2.0" fill="#ff0000"/>
<circle cx="322.90" cy="820.60" r="2.0" fill="#ff0000"/>
<circle cx="453.00" cy="817.50" r="2.0" fill="#ff0000"/>
<circle cx="286.00" cy="808.00" r="2.0" fill="#ff0000"/>
<circle cx="291.00" cy="809.00" r="2.0" fill="#ff0000"/>
<circle cx="296.00" cy="811.00" r="2.0" fill="#ff0000"/>
<circle cx="305.00" cy="812.00" r="2.0" fill="#ff0000"/>
<circle cx="290.26" cy="814.82" r="2.0" fill="#ff0000"/>
<circle cx="299.55" cy="814.64" r="2.0" fill="#ff0000"/>
<circle cx="287.31" cy="813.17" r="2.0" fill="#ff0000"/>
<circle cx="302.09" cy="816.44" r="2.0" fill="#ff0000"/>
<circle cx="296.52" cy="816.79" r="2.0" fill="#ff0000"/>
<circle cx="296.70" cy="817.62" r="2.0" fill="#ff0000"/>
<circle cx="297.35" cy="815.23" r="2.0" fill="#ff0000"/>
<circle cx="287.48" cy="815.15" r="2.0" fill="#ff0000"/>
<circle cx="286.34" cy="815.27" r="2.0" fill="#ff0000"/>
<circle cx="306.24" cy="818.90" r="2.0" fill="#ff0000"/>
<circle cx="299.12" cy="814.58" r="2.0" fill="#ff0000"/>
<circle cx="285.53" cy="814.29" r="2.0" fill="#ff0000"/>
<circle cx="289.96" cy="813.34" r="2.0" fill="#ff0000"/>
<circle cx="287.07" cy="816.23" r="2.0" fill="#ff0000"/>
<circle cx="310.56" cy="816.50" r="2.0" fill="#ff0000"/>
<circle cx="294.67" cy="818.76" r="2.0" fill="#ff0000"/>
<circle cx="301.66" cy="817.67" r="2.0" fill="#ff0000"/>
<circle cx="302.60" cy="815.17" r="2.0" fill="#ff0000"/>
<circle cx="287.59" cy="812.95" r="2.0" fill="#ff0000"/>
<circle cx="286.80" cy="814.36" r="2.0" fill="#ff0000"/>
<circle cx="290.45" cy="816.80" r="2.0" fill="#ff0000"/>
<circle cx="302.84" cy="815.63" r="2.0" fill="#ff0000"/>
<circle cx="303.51" cy="815.29" r="2.0" fill="#ff0000"/>
<circle cx="289.69" cy="817.07" r="2.0" fill="#ff0000"/>
<circle cx="299.22" cy="817.43" r="2.0" fill="#ff0000"/>
<circle cx="293.09" cy="813.74" r="2.0" fill="#ff0000"/>
<circle cx="307.77" cy="818.23" r="2.0" fill="#ff0000"/>
<circle cx="306.60" cy="815.52" r="2.0" fill="#ff0000"/>
<circle cx="306.49" cy="815.39" r="2.0" fill="#ff0000"/>
<circle cx="293.90" cy="818.60" r="2.0" fill="#ff0000"/>
<circle cx="300.67" cy="815.21" r="2.0" fill="#ff0000"/>
<circle cx="307.94" cy="816.15" r="2.0" fill="#ff0000"/>
<circle cx="291.72" cy="817.43" r="2.0" fill="#ff0000"/>
<circle cx="303.05" cy="817.98" r="2.0" fill="#ff0000"/>
<circle cx="297.05" cy="818.33" r="2.0" fill="#ff0000"/>
<circle cx="290.07" cy="817.22" r="2.0" fill="#ff0000"/>
<circle cx="304.97" cy="817.35" r="2.0" fill="#ff0000"/>
<circle cx="305.11" cy="818.46" r="2.0" fill="#ff0000"/>
<circle cx="294.77" cy="819.33" r="2.0" fill="#ff0000"/>
<circle cx="286.82" cy="812.72" r="2.0" fill="#ff0000"/>
<circle cx="293.39" cy="815.08" r="2.0" fill="#ff0000"/>
<circle cx="292.26" cy="818.23" r="2.0" fill="#ff0000"/>
<circle cx="294.91" cy="813.96" r="2.0" fill="#ff0000"/>
<circle cx="309.89" cy="817.18" r="2.0" fill="#ff0000"/>
<circle cx="297.03" cy="818.85" r="2.0" fill="#ff0000"/>
<circle cx="294.25" cy="818.11" r="2.0" fill="#ff0000"/>
<circle cx="298.74" cy="819.11" r="2.0" fill="#ff0000"/>
<circle cx="289.22" cy="815.84" r="2.0" fill="#ff0000"/>
<circle cx="294.26" cy="819.48" r="2.0" fill="#ff0000"/>
<circle cx="305.18" cy="815.88" r="2.0" fill="#ff0000"/>
<circle cx="286.91" cy="817.37" r="2.0" fill="#ff0000"/>
<circle cx="305.11" cy="819.00" r="2.0" fill="#ff0000"/>
<circle cx="295.94" cy="814.76" r="2.0" fill="#ff0000"/>
<circle cx="289.89" cy="813.34" r="2.0" fill="#ff0000"/>
<circle cx="311.44" cy="815.91" r="2.0" fill="#ff0000"/>
<circle cx="290.74" cy="815.48" r="2.0" fill="#ff0000"/>
<circle cx="299.98" cy="818.65" r="2.0" fill="#ff0000"/>
<circle cx="306.84" cy="817.48" r="2.0" fill="#ff0000"/>
<circle cx="294.30" cy="814.03" r="2.0" fill="#ff0000"/>
<circle cx="304.03" cy="818.51" r="2.0" fill="#ff0000"/>
<circle cx="288.76" cy="815.24" r="2.0" fill="#ff0000"/>
<circle cx="307.48" cy="816.76" r="2.0" fill="#ff0000"/>
<circle cx="287.41" cy="815.49" r="2.0" fill="#ff0000"/>
<circle cx="289.44" cy="813.76" r="2.0" fill="#ff0000"/>
<circle cx="291.18" cy="814.03" r="2.0" fill="#ff0000"/>
<circle cx="286.65" cy="814.65" r="2.0" fill="#ff0000"/>
<circle cx="306.23" cy="815.20" r="2.0" fill="#ff0000"/>
<circle cx="289.58" cy="817.39" r="2.0" fill="#ff0000"/>
<circle cx="286.81" cy="812.73" r="2.0" fill="#ff0000"/>
<circle cx="295.87" cy="819.04" r="2.0" fill="#ff0000"/>
<circle cx="305.00" cy="815.91" r="2.0" fill="#ff0000"/>
<circle cx="303.10" cy="815.50" r="2.0" fill="#ff0000"/>
<circle cx="287.90" cy="817.02" r="2.0" fill="#ff0000"/>
<circle cx="296.05" cy="818.50" r="2.0" fill="#ff0000"/>
<circle cx="301.29" cy="818.59" r="2.0" fill="#ff0000"/>
<circle cx="307.50" cy="818.06" r="2.0" fill="#ff0000"/>
<circle cx="309.93" cy="817.84" r="2.0" fill="#ff0000"/>
<circle cx="303.39" cy="815.40" r="2.0" fill="#ff0000"/>
<circle cx="293.20" cy="817.29" r="2.0" fill="#ff0000"/>
<circle cx="286.53" cy="815.03" r="2.0" fill="#ff0000"/>
<circle cx="307.75" cy="818.20" r="2.0" fill="#ff0000"/>
<circle cx="296.63" cy="815.42" r="2.0" fill="#ff0000"/>
<circle cx="302.77" cy="814.92" r="2.0" fill="#ff0000"/>
<circle cx="289.17" cy="817.57" r="2.0" fill="#ff0000"/>
<circle cx="286.63" cy="816.71" r="2.0" fill="#ff0000"/>
<circle cx="300.27" cy="818.25" r="2.0" fill="#ff0000"/>
<circle cx="299.38" cy="817.40" r="2.0" fill="#ff0000"/>
<circle cx="309.20" cy="816.13" r="2.0" fill="#ff0000"/>
<circle cx="290.01" cy="817.89" r="2.0" fill="#ff0000"/>
<circle cx="295.67" cy="818.74" r="2.0" fill="#ff0000"/>
<path d="M281.22,805.24 L285.50,806.33 L289.77,807.33 L294.05,808.18 L298.33,808.85 L302.61,809.33 L306.88,809.67 L311.16,809.93 L315.44,810.14 L319.72,810.32 L323.99,810.48 L328.27,810.63 L332.55,810.77 L336.83,810.91 L341.10,811.04 L345.38,811.17 L349.66,811.29 L353.94,811.41 L358.21,811.53 L362.49,811.65 L366.77,811.77 L371.05,811.88 L375.32,812.00 L379.60,812.11 L383.88,812.23 L388.16,812.34 L392.43,812.46 L396.71,812.57 L400.99,812.68 L405.27,812.80 L409.54,812.91 L413.82,813.02 L418.10,813.13 L422.38,813.24 L426.65,813.35 L430.93,813.47 L435.21,813.58 L439.49,813.69 L443.76,813.80 L448.04,813.91 L452.32,814.02 L452.32,855.80 L448.04,854.55 L443.76,853.31 L439.49,852.06 L435.21,850.82 L430.93,849.57 L426.65,848.32 L422.38,847.08 L418.10,845.83 L413.82,844.59 L409.54,843.34 L405.27,842.10 L400.99,840.85 L396.71,839.61 L392.43,838.36 L388.16,837.12 L383.88,835.88 L379.60,834.63 L375.32,833.39 L371.05,832.15 L366.77,830.91 L362.49,829.67 L358.21,828.43 L353.94,827.19 L349.66,825.96 L345.38,824.73 L341.10,823.50 L336.83,822.27 L332.55,821.05 L328.27,819.83 L323.99,818.62 L319.72,817.43 L315.44,816.25 L311.16,815.10 L306.88,814.01 L302.61,812.99 L298.33,812.11 L294.05,811.42 L289.77,810.92 L285.50,810.56 L281.22,810.29 Z" fill="#999" fill-opacity="0.4" stroke="#2aa88f" stroke-opacity="0.6" stroke-width="2.4" stroke-linejoin="miter"/>
<path d="M281.22,807.77 L452.32,834.91" stroke="#2a9d8a" stroke-width="2.5" fill="none"/>
<path d="M273.10,742.80 L273.10,862.00 L461.30,862.00" fill="none" stroke="#111" stroke-width="1.5"/>
<path d="M269.50,823.60 L273.10,823.60" stroke="#111" stroke-width="1.3"/>
<text x="267.30" y="828.10" text-anchor="end" font-family="'Liberation Serif', serif" font-size="12.1" font-weight="normal" fill="#4d4d4d">0</text>
<path d="M269.50,783.47 L273.10,783.47" stroke="#111" stroke-width="1.3"/>
<text x="267.30" y="787.97" text-anchor="end" font-family="'Liberation Serif', serif" font-size="12.1" font-weight="normal" fill="#4d4d4d">50</text>
<path d="M269.50,743.34 L273.10,743.34" stroke="#111" stroke-width="1.3"/>
<text x="267.30" y="747.84" text-anchor="end" font-family="'Liberation Serif', serif" font-size="12.1" font-weight="normal" fill="#4d4d4d">100</text>
<path d="M276.80,862.00 L276.80,865.60" stroke="#111" stroke-width="1.3"/>
<text x="276.80" y="879.80" text-anchor="middle" font-family="'Liberation Serif', serif" font-size="12.1" font-weight="normal" fill="#4d4d4d">0</text>
<path d="M336.50,862.00 L336.50,865.60" stroke="#111" stroke-width="1.3"/>
<text x="336.50" y="879.80" text-anchor="middle" font-family="'Liberation Serif', serif" font-size="12.1" font-weight="normal" fill="#4d4d4d">500</text>
<path d="M396.20,862.00 L396.20,865.60" stroke="#111" stroke-width="1.3"/>
<text x="396.20" y="879.80" text-anchor="middle" font-family="'Liberation Serif', serif" font-size="12.1" font-weight="normal" fill="#4d4d4d">1000</text>
<path d="M455.90,862.00 L455.90,865.60" stroke="#111" stroke-width="1.3"/>
<text x="455.90" y="879.80" text-anchor="middle" font-family="'Liberation Serif', serif" font-size="12.1" font-weight="normal" fill="#4d4d4d">1500</text>
<text transform="translate(236.6,801.7) rotate(-90)" text-anchor="middle" font-family="'Liberation Serif', serif" font-size="14.8" font-weight="bold" fill="#111" textLength="85" lengthAdjust="spacingAndGlyphs">Hcy (µmol/L)</text>
<text x="328.5" y="912.5" font-family="'Liberation Serif', serif" font-size="14.8" font-weight="bold" fill="#111" textLength="79" lengthAdjust="spacingAndGlyphs">B<tspan font-size="10.2" dy="2.8">12</tspan><tspan dy="-2.8"> (pmol/L)</tspan></text>
</svg>
</body></html>
